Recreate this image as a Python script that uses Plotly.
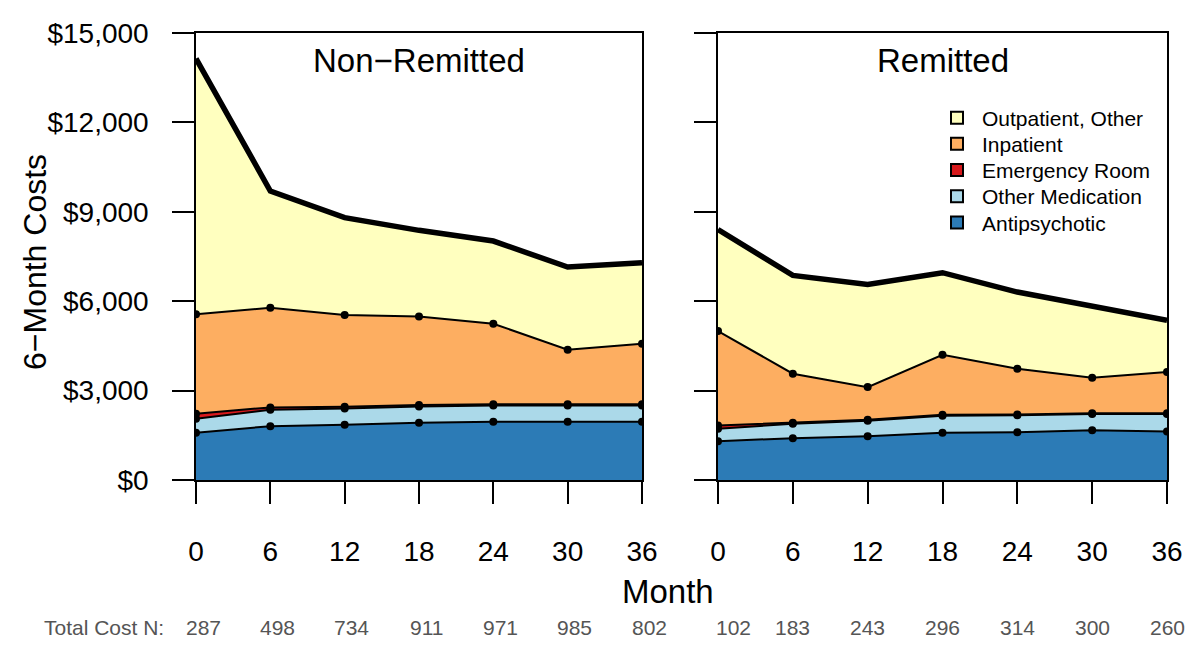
import plotly.graph_objects as go

# months of follow-up
MONTHS = [0, 6, 12, 18, 24, 30, 36]

# 6-month costs by component, Non-Remitted group
NR_ANTIPSYCHOTIC = [1585, 1807, 1853, 1921, 1954, 1954, 1954]
NR_OTHER_MED = [470, 550, 547, 549, 546, 546, 546]
NR_ER = [170, 80, 60, 45, 40, 40, 40]
NR_INPATIENT = [3333, 3345, 3075, 2975, 2705, 1832, 2033]
NR_OUTPATIENT = [8586, 3916, 3270, 2888, 2774, 2774, 2721]

# 6-month costs by component, Remitted group
R_ANTIPSYCHOTIC = [1303, 1404, 1471, 1585, 1605, 1672, 1629]
R_OTHER_MED = [417, 482, 520, 574, 565, 541, 584]
R_ER = [110, 35, 30, 30, 30, 30, 30]
R_INPATIENT = [3170, 1645, 1096, 2015, 1534, 1189, 1377]
R_OUTPATIENT = [3402, 3301, 3448, 2753, 2573, 2394, 1736]

# sample sizes under each time point
NR_N = [287, 498, 734, 911, 971, 985, 802]
R_N = [102, 183, 243, 296, 314, 300, 260]

COMPONENTS = ["Antipsychotic", "Other Medication", "Emergency Room",
              "Inpatient", "Outpatient, Other"]
COLORS = {
    "Antipsychotic":     "#2C7BB6",
    "Other Medication":  "#ABD9E9",
    "Emergency Room":    "#D7191C",
    "Inpatient":         "#FDAE61",
    "Outpatient, Other": "#FFFFBF",
}

FONT = "Liberation Sans, Arial, sans-serif"
W, H = 1200, 655
OFF = 8  # page body margin, shift everything back by this


def px(v):
    return (v - OFF) / W


def py(v):
    return 1 - (v - OFF) / H


panels = [
    ("x", "y", "Non\u2212Remitted",
     [NR_ANTIPSYCHOTIC, NR_OTHER_MED, NR_ER, NR_INPATIENT, NR_OUTPATIENT]),
    ("x2", "y2", "Remitted",
     [R_ANTIPSYCHOTIC, R_OTHER_MED, R_ER, R_INPATIENT, R_OUTPATIENT]),
]

fig = go.Figure()

for xa, ya, _, series in panels:
    for name, vals in zip(COMPONENTS, series):
        top = name == "Outpatient, Other"
        fig.add_trace(go.Scatter(
            x=MONTHS, y=vals,
            xaxis=xa, yaxis=ya,
            stackgroup=xa,
            mode="lines" if top else "lines+markers",
            line=dict(color="black", width=5.5 if top else 2),
            marker=dict(color="black", size=8),
            fillcolor=COLORS[name],
            name=name,
            showlegend=False,
            cliponaxis=True,
        ))

# legend entries (squares with black border), one legend per row so the
# row spacing can follow the original
legend_cfg = {}
for i, name in enumerate(reversed(COMPONENTS)):
    key = "legend" if i == 0 else f"legend{i + 1}"
    fig.add_trace(go.Bar(
        x=[None], y=[None], xaxis="x2", yaxis="y2",
        name=name, legend=key,
        marker=dict(color=COLORS[name], line=dict(color="black", width=2)),
        showlegend=True,
    ))
    legend_cfg[key] = dict(
        x=px(932), y=py(118 + 26.2 * i), xanchor="left", yanchor="middle",
        bgcolor="rgba(0,0,0,0)", font=dict(size=21, family=FONT),
        itemwidth=40, borderwidth=0,
    )

ydom = [py(480), py(33)]
axis_common = dict(
    showline=True, linecolor="black", linewidth=1.5, mirror=True,
    ticks="outside", ticklen=22, tickwidth=1.5, tickcolor="black",
    showgrid=False, zeroline=False,
)

fig.update_layout(
    width=W, height=H,
    margin=dict(l=0, r=0, t=0, b=0),
    plot_bgcolor="white", paper_bgcolor="white",
    font=dict(family=FONT, color="black"),
    xaxis=dict(domain=[px(196), px(642)], range=[0, 36],
               tickvals=MONTHS, tickfont=dict(size=28),
               ticklabelstandoff=24, automargin=False, **axis_common),
    xaxis2=dict(domain=[px(718), px(1167)], range=[0, 36],
                tickvals=MONTHS, tickfont=dict(size=28),
                ticklabelstandoff=24, automargin=False, **axis_common),
    yaxis=dict(domain=ydom, range=[0, 15000], anchor="x",
               tickvals=[0, 3000, 6000, 9000, 12000, 15000],
               ticktext=["$0", "$3,000", "$6,000", "$9,000",
                         "$12,000", "$15,000"],
               tickfont=dict(size=28), ticklabelstandoff=18,
               automargin=False, **axis_common),
    yaxis2=dict(domain=ydom, range=[0, 15000], anchor="x2",
                tickvals=[0, 3000, 6000, 9000, 12000, 15000],
                showticklabels=False, automargin=False, **axis_common),
    showlegend=True,
    **legend_cfg,
)

ann = []
for xa, ya, title, _ in panels:
    ann.append(dict(
        text=title, xref=f"{xa} domain", yref="paper",
        x=0.5, y=py(60), showarrow=False,
        font=dict(size=33), xanchor="center", yanchor="middle",
    ))

ann.append(dict(text="Month", xref="paper", yref="paper",
                x=px(668), y=py(591), showarrow=False,
                font=dict(size=33), xanchor="center", yanchor="middle"))
ann.append(dict(text="6\u2212Month Costs", xref="paper", yref="paper",
                x=px(35), y=py(262), showarrow=False, textangle=-90,
                font=dict(size=32), xanchor="center", yanchor="middle"))
ann.append(dict(text="Total Cost N:", xref="paper", yref="paper",
                x=px(166), y=py(627), showarrow=False,
                font=dict(size=21, color="#555555"),
                xanchor="right", yanchor="middle"))

for m, n in zip(MONTHS, NR_N):
    ann.append(dict(text=str(n), xref="x", yref="paper", x=m,
                    y=py(627), xshift=7, showarrow=False,
                    font=dict(size=21, color="#555555"),
                    xanchor="center", yanchor="middle"))
for i, (m, n) in enumerate(zip(MONTHS, R_N)):
    ann.append(dict(text=str(n), xref="x2", yref="paper", x=m,
                    y=py(627), xshift=15 if i == 0 else 0,
                    showarrow=False,
                    font=dict(size=21, color="#555555"),
                    xanchor="center", yanchor="middle"))

fig.update_layout(annotations=ann)

fig.write_html("out.html")
